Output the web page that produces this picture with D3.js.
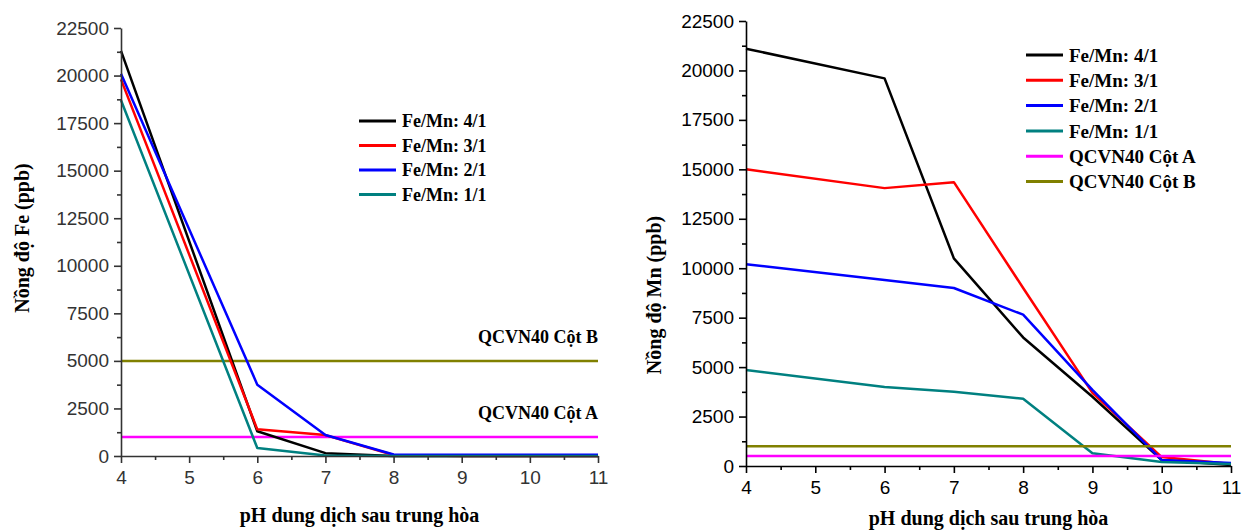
<html>
<script src="https://d3js.org/d3.v7.min.js"></script>
<style>
body {margin: 0; background: white;}
.tick text {font-family: 'Liberation Sans', Arial, sans-serif; font-size: 19px;}
.serif {font-family: 'Liberation Serif', 'Times New Roman', serif; font-weight: bold;}
</style>
<body>
<svg width=1244 height=531></svg>
<script>
// pH after neutralisation (shared by both panels)
const ph = [4, 6, 7, 8, 9, 10, 11];
const seriesNames = ['Fe/Mn: 4/1', 'Fe/Mn: 3/1', 'Fe/Mn: 2/1', 'Fe/Mn: 1/1'];
const seriesColors = ['#000000', '#ff0000', '#0000ff', '#008080'];
const yTicks = [0, 2500, 5000, 7500, 10000, 12500, 15000, 17500, 20000, 22500];
const xTicks = [4, 5, 6, 7, 8, 9, 10, 11];

// Fe concentration (ppb)
const fe41 = [21300, 1300, 150, 0, 0, 0, 0];
const fe31 = [19800, 1400, 1100, 50, 0, 0, 0];
const fe21 = [20100, 3750, 1100, 80, 60, 60, 60];
const fe11 = [18700, 420, 30, 0, 0, 0, 0];

// Mn concentration (ppb)
const mn41 = [21100, 19600, 10500, 6500, 3500, 300, 50];
const mn31 = [15000, 14050, 14350, 9000, 3700, 450, 100];
const mn21 = [10200, 9400, 9000, 7650, 3850, 300, 150];
const mn11 = [4850, 4000, 3750, 3400, 650, 200, 100];

// QCVN40 limits (ppb)
const feLimitNames = ['QCVN40 Cột A', 'QCVN40 Cột B'];
const feLimits = [1000, 5000];
const mnLimitNames = ['QCVN40 Cột A', 'QCVN40 Cột B'];
const mnLimits = [500, 1000];
const limitColors = ['#ff00ff', '#808000'];

const svg = d3.select('svg');

function drawAxes(g, x, y, color) {
	var yMinor = yTicks.slice(0, -1).map(function(v) {return v + 1250;});
	var xMinor = xTicks.slice(0, -1).map(function(v) {return v + 0.5;});
	g.append('g')
		.attr('transform', 'translate(' + x.range()[0] + ',0)')
		.call(d3.axisLeft(y).tickValues(yMinor).tickSize(4).tickFormat(''))
		.call(a => a.select('.domain').remove());
	g.append('g')
		.attr('transform', 'translate(0,' + y.range()[0] + ')')
		.call(d3.axisBottom(x).tickValues(xMinor).tickSize(4).tickFormat(''))
		.call(a => a.select('.domain').remove());
	g.append('g')
		.attr('transform', 'translate(' + x.range()[0] + ',0)')
		.call(d3.axisLeft(y).tickValues(yTicks).tickSize(7).tickSizeOuter(0).tickPadding(5).tickFormat(d3.format('d')));
	g.append('g')
		.attr('transform', 'translate(0,' + y.range()[0] + ')')
		.call(d3.axisBottom(x).tickValues(xTicks).tickSize(7).tickSizeOuter(0).tickPadding(8).tickFormat(d3.format('d')));
	g.selectAll('.domain, .tick line').attr('stroke', color).attr('stroke-width', 1.6);
	g.selectAll('.tick text').attr('fill', color);
}

function drawLimits(g, x, y, values) {
	g.selectAll('line.limit')
		.data(values)
		.enter()
		.append('line')
			.attr('class', 'limit')
			.attr('x1', x(4))
			.attr('x2', x(11))
			.attr('y1', d => y(d))
			.attr('y2', d => y(d))
			.attr('stroke', (d, i) => limitColors[i])
			.attr('stroke-width', 2.5);
}

function drawSeries(g, x, y, data) {
	var line = d3.line().x((d, i) => x(ph[i])).y(d => y(d));
	g.selectAll('path.series')
		.data(data)
		.enter()
		.append('path')
			.attr('class', 'series')
			.attr('d', d => line(d))
			.attr('fill', 'none')
			.attr('stroke', (d, i) => seriesColors[i])
			.attr('stroke-width', 2.5)
			.attr('stroke-linejoin', 'round');
}

function drawLegend(g, x0, y0, step, names, colors, size) {
	names.forEach(function(n, i) {
		g.append('line')
			.attr('x1', x0).attr('x2', x0 + 37)
			.attr('y1', y0 + i * step).attr('y2', y0 + i * step)
			.attr('stroke', colors[i]).attr('stroke-width', 3);
		g.append('text')
			.attr('class', 'serif')
			.attr('x', x0 + 43)
			.attr('y', y0 + i * step)
			.attr('dy', '0.35em')
			.attr('font-size', size)
			.text(n);
	});
}

function titles(g, x, y, yTitle, tx, ty, gap) {
	g.append('text')
		.attr('class', 'serif')
		.attr('font-size', 20)
		.attr('text-anchor', 'middle')
		.attr('transform', 'translate(' + tx + ',' + ty + ') rotate(-90)')
		.attr('dy', '0.35em')
		.text(yTitle);
	g.append('text')
		.attr('class', 'serif')
		.attr('font-size', 20)
		.attr('text-anchor', 'middle')
		.attr('x', (x.range()[0] + x.range()[1]) / 2)
		.attr('y', y.range()[0] + gap)
		.text('pH dung dịch sau trung hòa');
}

// left panel: Fe
var xl = d3.scaleLinear().domain([4, 11]).range([121, 598]);
var yl = d3.scaleLinear().domain([0, 22500]).range([456, 28]);
var gl = svg.append('g');
drawLimits(gl, xl, yl, feLimits);
drawSeries(gl, xl, yl, [fe41, fe31, fe21, fe11]);
drawAxes(gl, xl, yl, '#333');
drawLegend(gl, 359, 121, 24.5, seriesNames, seriesColors, 18);
titles(gl, xl, yl, 'Nồng độ Fe (ppb)', 22, 238, 66);
feLimitNames.forEach(function(n, i) {
	gl.append('text')
		.attr('class', 'serif')
		.attr('font-size', 18)
		.attr('text-anchor', 'end')
		.attr('x', xl(11))
		.attr('y', yl(feLimits[i]) - 18)
		.text(n);
});

// right panel: Mn
var xr = d3.scaleLinear().domain([4, 11]).range([746, 1231]);
var yr = d3.scaleLinear().domain([0, 22500]).range([466, 21]);
var gr = svg.append('g');
drawSeries(gr, xr, yr, [mn41, mn31, mn21, mn11]);
drawLimits(gr, xr, yr, mnLimits);
drawAxes(gr, xr, yr, '#000');
drawLegend(gr, 1026, 55, 25.3, seriesNames.concat(mnLimitNames), seriesColors.concat(limitColors), 19);
titles(gr, xr, yr, 'Nồng độ Mn (ppb)', 654, 295, 59);
</script>
</body>
</html>
